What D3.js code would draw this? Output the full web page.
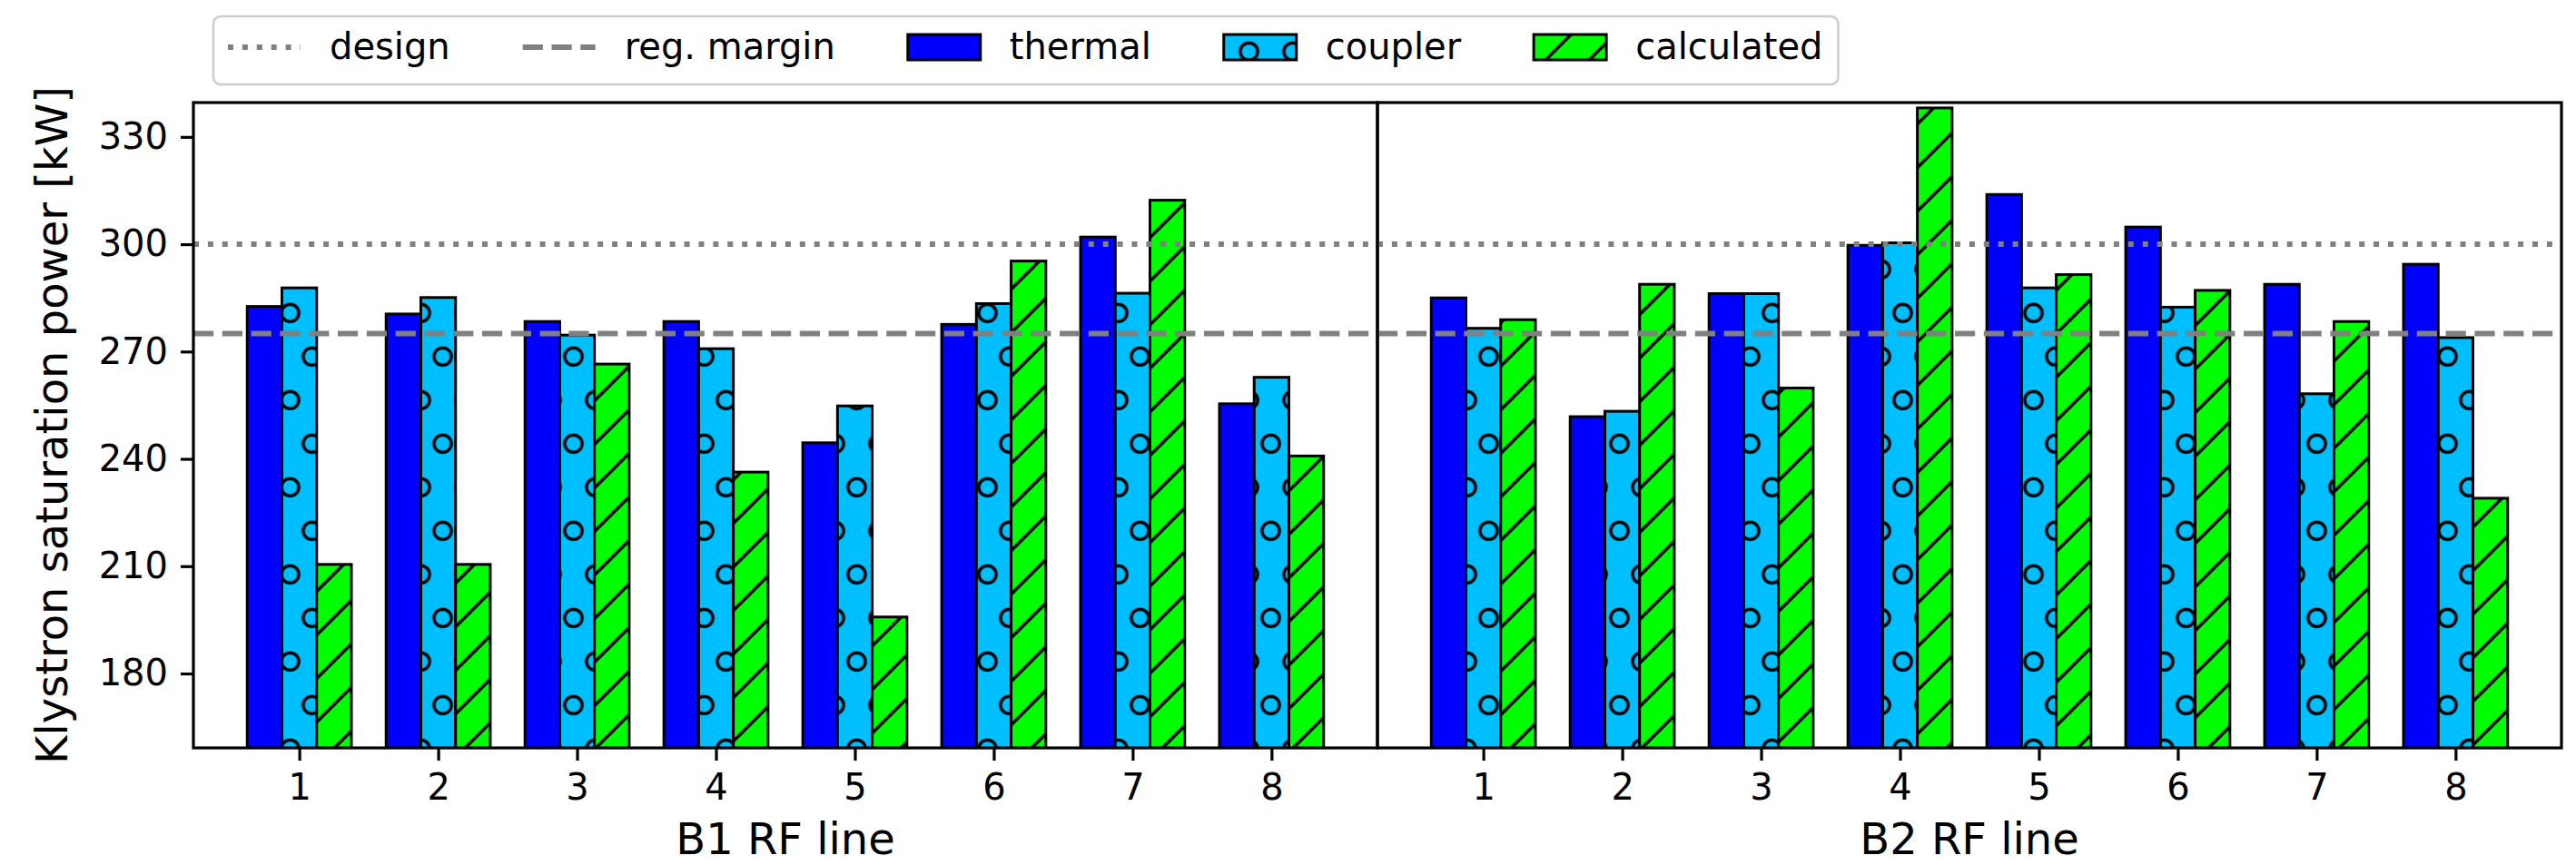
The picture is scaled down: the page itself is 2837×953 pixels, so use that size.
<!DOCTYPE html>
<html><head><meta charset="utf-8">
<script src="https://cdn.jsdelivr.net/npm/d3@7"></script>
<style>
body{margin:0;background:#fff}
svg{display:block}
text{font-family:"DejaVu Sans",sans-serif;fill:#000}
</style>
</head><body>
<svg id="chart" width="2837" height="953"></svg>
<script>
// ---------------- data ----------------
const categories = [1, 2, 3, 4, 5, 6, 7, 8];
const panelLabels = ["B1 RF line", "B2 RF line"];
const seriesNames = ["thermal", "coupler", "calculated"];

const b1Thermal    = [282.6, 280.5, 278.4, 278.4, 244.5, 277.6, 302.0, 255.4];
const b1Coupler    = [287.8, 285.1, 274.6, 270.8, 254.8, 283.4, 286.3, 262.8];
const b1Calculated = [210.5, 210.5, 266.5, 236.3, 195.8, 295.3, 312.3, 240.8];

const b2Thermal    = [285.0, 251.8, 286.2, 299.7, 313.9, 304.8, 288.8, 294.4];
const b2Coupler    = [276.5, 253.3, 286.2, 300.4, 287.8, 282.4, 258.2, 273.9];
const b2Calculated = [278.9, 288.8, 259.8, 338.1, 291.5, 287.1, 278.4, 229.0];

const yTicks = [180, 210, 240, 270, 300, 330];
const yDomain = [159.2, 339.6];
const designLevel = 300;
const regMarginLevel = 275;
const yLabel = "Klystron saturation power [kW]";

// ---------------- layout ----------------
const W = 2837, H = 953;
const axTop = 113, axBottom = 824;
const panelEdges = [[213, 1517], [1517, 2821]];
const xDomain = [0.2375, 8.7625];
const barW = 0.25;
const fontTick = 40, fontLabel = 48, fontLegend = 40;
const colors = {thermal: "#0000ff", coupler: "#00bfff", calculated: "#00ff00"};
const lineGray = "#808080";

const panels = [
  {label: panelLabels[0], series: [b1Thermal, b1Coupler, b1Calculated]},
  {label: panelLabels[1], series: [b2Thermal, b2Coupler, b2Calculated]}
];

const svg = d3.select("#chart");
const defs = svg.append("defs");

// hatch patterns (anchored in page space)
const hx0 = 31.5, hy0 = 56.8;
const pC = defs.append("pattern").attr("id", "hatchCoupler")
  .attr("patternUnits", "userSpaceOnUse").attr("x", hx0).attr("y", hy0)
  .attr("width", 48).attr("height", 96);
pC.append("rect").attr("width", 48).attr("height", 96).attr("fill", colors.coupler);
[[0,0],[48,0],[0,96],[48,96],[24,48]].forEach(([cx,cy]) => {
  pC.append("circle").attr("cx", cx).attr("cy", cy).attr("r", 9.6)
    .attr("fill", "none").attr("stroke", "#000").attr("stroke-width", 3.5);
});
const pL = defs.append("pattern").attr("id", "hatchCalc")
  .attr("patternUnits", "userSpaceOnUse").attr("x", hx0).attr("y", hy0)
  .attr("width", 48).attr("height", 48);
pL.append("rect").attr("width", 48).attr("height", 48).attr("fill", colors.calculated);
pL.append("path").attr("d", "M-12,60 L60,-12 M-12,12 L12,-12 M36,60 L60,36")
  .attr("stroke", "#000").attr("stroke-width", 3.5).attr("fill", "none");

const fills = ["#0000ff", "url(#hatchCoupler)", "url(#hatchCalc)"];

const y = d3.scaleLinear().domain(yDomain).range([axBottom, axTop]);

panels.forEach((p, pi) => {
  const [x0, x1] = panelEdges[pi];
  const x = d3.scaleLinear().domain(xDomain).range([x0, x1]);
  const clipId = "clip" + pi;
  defs.append("clipPath").attr("id", clipId).append("rect")
    .attr("x", x0).attr("y", axTop).attr("width", x1 - x0).attr("height", axBottom - axTop);

  const g = svg.append("g");
  const plot = g.append("g").attr("clip-path", `url(#${clipId})`);

  p.series.forEach((vals, si) => {
    const off = (si - 1) * barW;
    plot.selectAll(null).data(vals).enter().append("rect")
      .attr("x", (d, i) => x(categories[i] + off - barW / 2))
      .attr("width", (d, i) => x(categories[i] + off + barW / 2) - x(categories[i] + off - barW / 2))
      .attr("y", d => y(d))
      .attr("height", d => y(yDomain[0]) - y(d) + 4)
      .attr("fill", fills[si])
      .attr("stroke", "#000").attr("stroke-width", 3);
  });

  // reference lines
  plot.append("line").attr("x1", x0).attr("x2", x1)
    .attr("y1", y(designLevel)).attr("y2", y(designLevel))
    .attr("stroke", lineGray).attr("stroke-width", 6).attr("stroke-dasharray", "6,9.9");
  plot.append("line").attr("x1", x0).attr("x2", x1)
    .attr("y1", y(regMarginLevel)).attr("y2", y(regMarginLevel))
    .attr("stroke", lineGray).attr("stroke-width", 6).attr("stroke-dasharray", "22.2,9.6");

  // x axis
  const xa = g.append("g").attr("transform", `translate(0,${axBottom})`)
    .call(d3.axisBottom(x).tickValues(categories).tickSize(14).tickPadding(15).tickFormat(d3.format("d")));
  xa.select(".domain").remove();
  xa.selectAll("line").attr("stroke", "#000").attr("stroke-width", 3.2);
  xa.selectAll("text").attr("font-size", fontTick).attr("font-family", "DejaVu Sans").attr("fill", "#000");

  // y axis (left panel only)
  if (pi === 0) {
    const ya = g.append("g").attr("transform", `translate(${x0},0)`)
      .call(d3.axisLeft(y).tickValues(yTicks).tickSize(14).tickPadding(14));
    ya.select(".domain").remove();
    ya.selectAll("line").attr("stroke", "#000").attr("stroke-width", 3.2);
    ya.selectAll("text").attr("font-size", fontTick).attr("font-family", "DejaVu Sans").attr("fill", "#000");
  }

  // frame
  g.append("rect").attr("x", x0).attr("y", axTop).attr("width", x1 - x0).attr("height", axBottom - axTop)
    .attr("fill", "none").attr("stroke", "#000").attr("stroke-width", 3.2);

  // x label
  g.append("text").attr("x", (x0 + x1) / 2).attr("y", 941)
    .attr("text-anchor", "middle").attr("font-size", fontLabel).text(p.label);
});

// y label
svg.append("text").attr("transform", `translate(74,${(axTop + axBottom) / 2}) rotate(-90)`)
  .attr("text-anchor", "middle").attr("font-size", fontLabel).text(yLabel);

// ---------------- legend ----------------
const leg = svg.append("g");
const frame = leg.append("rect").attr("x", 235).attr("y", 18).attr("height", 75).attr("rx", 8)
  .attr("fill", "#fff").attr("fill-opacity", 0.8).attr("stroke", "#cccccc").attr("stroke-width", 2.5);
const legendItems = [
  {name: "design", kind: "line", dash: "6,9.9"},
  {name: "reg. margin", kind: "line", dash: "22.2,9.6"},
  {name: seriesNames[0], kind: "patch", fill: fills[0]},
  {name: seriesNames[1], kind: "patch", fill: fills[1]},
  {name: seriesNames[2], kind: "patch", fill: fills[2]}
];
let cx = 251;
const handleLen = 80, handlePad = 32, colSpace = 80, midY = 52, baseY = 65;
legendItems.forEach((it, i) => {
  if (it.kind === "line") {
    leg.append("line").attr("x1", cx).attr("x2", cx + handleLen).attr("y1", midY).attr("y2", midY)
      .attr("stroke", lineGray).attr("stroke-width", 6).attr("stroke-dasharray", it.dash);
  } else {
    leg.append("rect").attr("x", cx).attr("y", midY - 14).attr("width", handleLen).attr("height", 28)
      .attr("fill", it.fill).attr("stroke", "#000").attr("stroke-width", 3);
  }
  const t = leg.append("text").attr("x", cx + handleLen + handlePad).attr("y", baseY)
    .attr("font-size", fontLegend).text(it.name);
  const tw = t.node().getComputedTextLength();
  cx = cx + handleLen + handlePad + tw + (i < legendItems.length - 1 ? colSpace : 0);
});
frame.attr("width", cx + 17 - 235);
</script>
</body></html>
